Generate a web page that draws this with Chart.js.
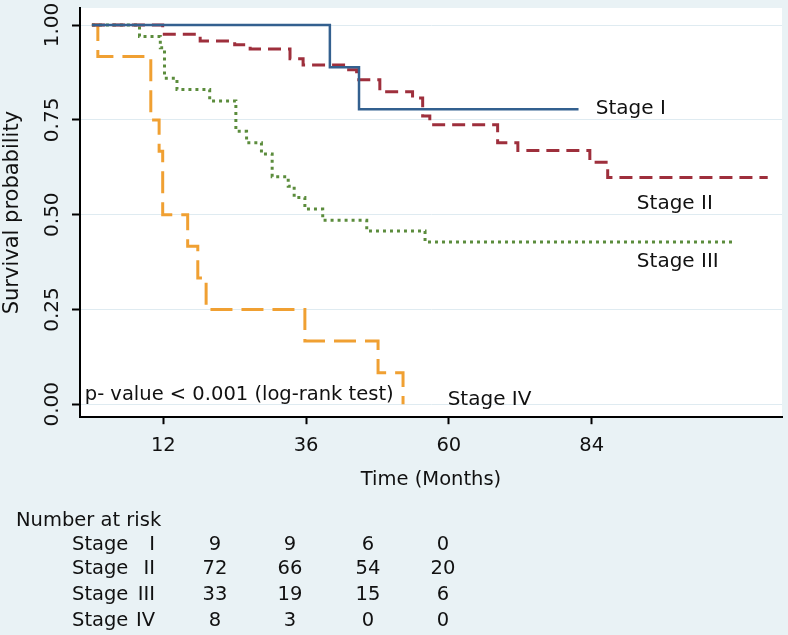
<!DOCTYPE html>
<html>
<head>
<meta charset="utf-8">
<script src="https://cdn.jsdelivr.net/npm/chart.js@4.4.1/dist/chart.umd.min.js"></script>
<style>
  body { margin: 0; background: #e9f2f5; }
  canvas { display: block; }
</style>
</head>
<body>
<canvas id="kmChart" width="788" height="635"></canvas>
<script>
// Kaplan-Meier survival by stage
const stage1Time = [0, 40, 44.9, 81.8];
const stage1Surv = [1, 0.889, 0.778, 0.778];

const stage2Time = [0, 11.9, 18.2, 24, 26.6, 33.3, 35.5, 42.9, 44.5, 48.4, 53.9, 55.6, 56.8, 68.2, 71.6, 83.7, 86.7, 113.6];
const stage2Surv = [1, 0.976, 0.958, 0.948, 0.937, 0.911, 0.895, 0.882, 0.856, 0.824, 0.808, 0.76, 0.737, 0.69, 0.669, 0.638, 0.598, 0.598];

const stage3Time = [0, 8, 11.5, 12.2, 14.3, 19.8, 24.2, 26, 28.5, 30.3, 33, 34, 35.8, 38.8, 46.2, 56, 107.6];
const stage3Surv = [1, 0.97, 0.94, 0.86, 0.83, 0.8, 0.72, 0.69, 0.66, 0.6, 0.575, 0.545, 0.515, 0.485, 0.457, 0.428, 0.428];

const stage4Time = [0, 1, 9.9, 11.3, 11.9, 16.1, 17.8, 19.2, 35.8, 48.1, 52.3];
const stage4Surv = [1, 0.917, 0.75, 0.667, 0.5, 0.417, 0.333, 0.25, 0.167, 0.083, 0];

const xTicks = [12, 36, 60, 84];
const yTicks = [0, 0.25, 0.5, 0.75, 1];

// number at risk table
const riskStages = ["I", "II", "III", "IV"];
const riskStage1 = [9, 9, 6, 0];
const riskStage2 = [72, 66, 54, 20];
const riskStage3 = [33, 19, 15, 6];
const riskStage4 = [8, 3, 0, 0];

const FONT = "DejaVu Sans";
const TEXT = "#111111";

function pts(t, s) {
  return t.map((v, i) => ({ x: v, y: s[i] }));
}

function curve(label, t, s, color, dash, width) {
  return {
    label: label,
    data: pts(t, s),
    borderColor: color,
    borderWidth: width,
    borderDash: dash,
    stepped: 'before',
    pointRadius: 0,
    fill: false
  };
}

const background = {
  id: 'background',
  beforeDraw(chart) {
    const { ctx, chartArea: a } = chart;
    ctx.save();
    ctx.fillStyle = '#e9f2f5';
    ctx.fillRect(0, 0, chart.width, chart.height);
    ctx.fillStyle = '#ffffff';
    ctx.fillRect(a.left, a.top, a.right - a.left, a.bottom - a.top);
    ctx.restore();
  }
};

const annotations = {
  id: 'annotations',
  afterDraw(chart) {
    const { ctx } = chart;
    const sx = chart.scales.x, sy = chart.scales.y;
    ctx.save();
    ctx.fillStyle = TEXT;
    ctx.font = "20px '" + FONT + "'";

    // y tick labels, rotated like the original
    ctx.textAlign = 'center';
    ctx.textBaseline = 'middle';
    yTicks.forEach(v => {
      ctx.save();
      ctx.translate(53, sy.getPixelForValue(v));
      ctx.rotate(-Math.PI / 2);
      ctx.fillText(v.toFixed(2), 0, 0);
      ctx.restore();
    });

    // curve labels
    ctx.textAlign = 'left';
    ctx.fillText('Stage I', sx.getPixelForValue(84.7), sy.getPixelForValue(0.78));
    ctx.fillText('Stage II', sx.getPixelForValue(91.6), sy.getPixelForValue(0.528));
    ctx.fillText('Stage III', sx.getPixelForValue(91.6), sy.getPixelForValue(0.375));
    ctx.fillText('Stage IV', sx.getPixelForValue(59.8), sy.getPixelForValue(0.012));
    ctx.font = "19.5px '" + FONT + "'";
    ctx.fillText('p- value < 0.001 (log-rank test)', sx.getPixelForValue(-1.2), sy.getPixelForValue(0.026));

    // number at risk
    const cols = [215, 290, 368, 443];
    const rows = [545, 569, 595, 621];
    const counts = [riskStage1, riskStage2, riskStage3, riskStage4];
    ctx.fillText('Number at risk', 16, 521);
    riskStages.forEach((st, i) => {
      ctx.textAlign = 'left';
      ctx.fillText('Stage', 72, rows[i]);
      ctx.textAlign = 'right';
      ctx.fillText(st, 155, rows[i]);
      ctx.textAlign = 'center';
      counts[i].forEach((n, j) => ctx.fillText(String(n), cols[j], rows[i]));
    });
    ctx.restore();
  }
};

new Chart(document.getElementById("kmChart"), {
  type: "line",
  data: {
    datasets: [
      curve("Stage I", stage1Time, stage1Surv, "#33608f", [], 2.5),
      curve("Stage II", stage2Time, stage2Surv, "#9e2f3c", [13, 7], 3),
      curve("Stage III", stage3Time, stage3Surv, "#5b8c3c", [3, 4], 3),
      curve("Stage IV", stage4Time, stage4Surv, "#f0a032", [22, 9], 3)
    ]
  },
  options: {
    responsive: false,
    animation: false,
    layout: { padding: { left: 0, right: 6, top: 8, bottom: 143 } },
    plugins: {
      legend: { display: false },
      tooltip: { enabled: false }
    },
    scales: {
      x: {
        type: "linear",
        min: -2,
        max: 116,
        afterBuildTicks: s => { s.ticks = xTicks.map(v => ({ value: v })); },
        grid: { drawOnChartArea: false, tickLength: 7, tickColor: "#000", tickWidth: 2 },
        border: { color: "#000", width: 2 },
        ticks: { color: TEXT, padding: 10, font: { family: FONT, size: 19.5 } },
        title: {
          display: true,
          text: "Time (Months)",
          color: TEXT,
          font: { family: FONT, size: 19.5 },
          padding: { top: 1, bottom: 0 }
        }
      },
      y: {
        min: -0.034,
        max: 1.045,
        afterBuildTicks: s => { s.ticks = yTicks.map(v => ({ value: v })); },
        grid: { color: "#dfebf1", lineWidth: 1, tickLength: 8, tickColor: "#000", tickWidth: 2 },
        border: { color: "#000", width: 2 },
        ticks: { display: false },
        title: {
          display: true,
          text: "Survival probability",
          color: TEXT,
          font: { family: FONT, size: 21 },
          padding: { top: 0, bottom: 46.8 }
        }
      }
    }
  },
  plugins: [background, annotations]
});
</script>
</body>
</html>
